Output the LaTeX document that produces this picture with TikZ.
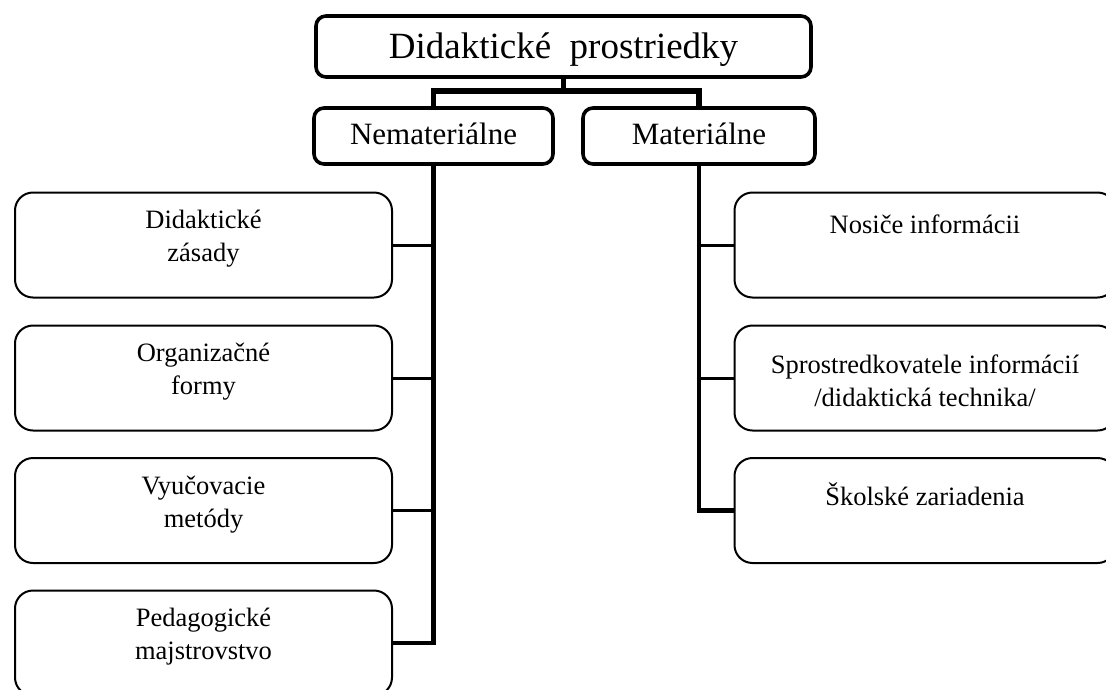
\documentclass[tikz,border=0pt]{standalone}
\usepackage{fontspec}
\setmainfont{Liberation Serif}
\begin{document}
\begin{tikzpicture}[x=1pt,y=-1pt,
  bigbox/.style={draw, line width=3.6pt, rounded corners=10pt, inner sep=0pt},
  childbox/.style={draw, line width=2pt, rounded corners=18pt, inner sep=0pt, minimum height=105pt},
  lbox/.style={childbox, minimum width=377pt},
  rbox/.style={childbox, minimum width=381pt},
  toptext/.style={font=\fontsize{37}{44}\selectfont, inner sep=0pt, anchor=base},
  midtext/.style={font=\fontsize{31}{37}\selectfont, inner sep=0pt, anchor=base},
  ctext/.style={font=\fontsize{26.5}{33}\selectfont, inner sep=0pt, anchor=base, align=center},
  trunk/.style={line width=4.5pt},
  branch/.style={line width=3pt},
  topbar/.style={line width=5.5pt}
]
\useasboundingbox (0,0) rectangle (1106,689);
\clip (0,0) rectangle (1106,689);

% main boxes
\node[bigbox, minimum width=495pt, minimum height=61pt] (top) at (563.5,46.5) {};
\node[toptext] (toptxt) at (563.5,58.5) {Didaktické\ \ prostriedky};
\node[bigbox, minimum width=239pt, minimum height=56pt] (nem) at (433.5,136) {};
\node[midtext] (nemtxt) at (433.5,144) {Nemateriálne};
\node[bigbox, minimum width=232pt, minimum height=56pt] (mat) at (699,136) {};
\node[midtext] (mattxt) at (699,144) {Materiálne};

% left boxes
\node[lbox] (l1) at (203.5,245) {};
\node[lbox] (l2) at (203.5,378) {};
\node[lbox] (l3) at (203.5,510.5) {};
\node[lbox] (l4) at (203.5,643) {};
\node[ctext] (l1t) at (203.5,261) {Didaktické\\zásady};
\node[ctext] (l2t) at (203.5,394) {Organizačné\\formy};
\node[ctext] (l3t) at (203.5,527) {Vyučovacie\\metódy};
\node[ctext] (l4t) at (203.5,659) {Pedagogické\\majstrovstvo};

% right boxes
\node[rbox] (r1) at (925,245) {};
\node[rbox] (r2) at (925,378) {};
\node[rbox] (r3) at (925,510.5) {};
\node[ctext] (r1t) at (925,233) {Nosiče informácii};
\node[ctext] (r2t) at (925,406) {Sprostredkovatele informácií\\/didaktická technika/};
\node[ctext] (r3t) at (925,505) {Školské zariadenia};

% top connectors
\coordinate (bar) at (563.5,91);
\draw[topbar] (top.south) -- (bar);
\draw[topbar] (nem.north) |- (bar);
\draw[topbar] (bar) -| (mat.north);

% left trunk and branches
\draw[trunk] (nem.south) |- (l4.east);
\draw[branch] (l1.east) -- (l1.east -| nem.south);
\draw[branch] (l2.east) -- (l2.east -| nem.south);
\draw[branch] (l3.east) -- (l3.east -| nem.south);

% right trunk and branches
\draw[trunk] (mat.south) |- (r3.west);
\draw[branch] (r1.west) -- (r1.west -| mat.south);
\draw[branch] (r2.west) -- (r2.west -| mat.south);
\end{tikzpicture}
\end{document}
